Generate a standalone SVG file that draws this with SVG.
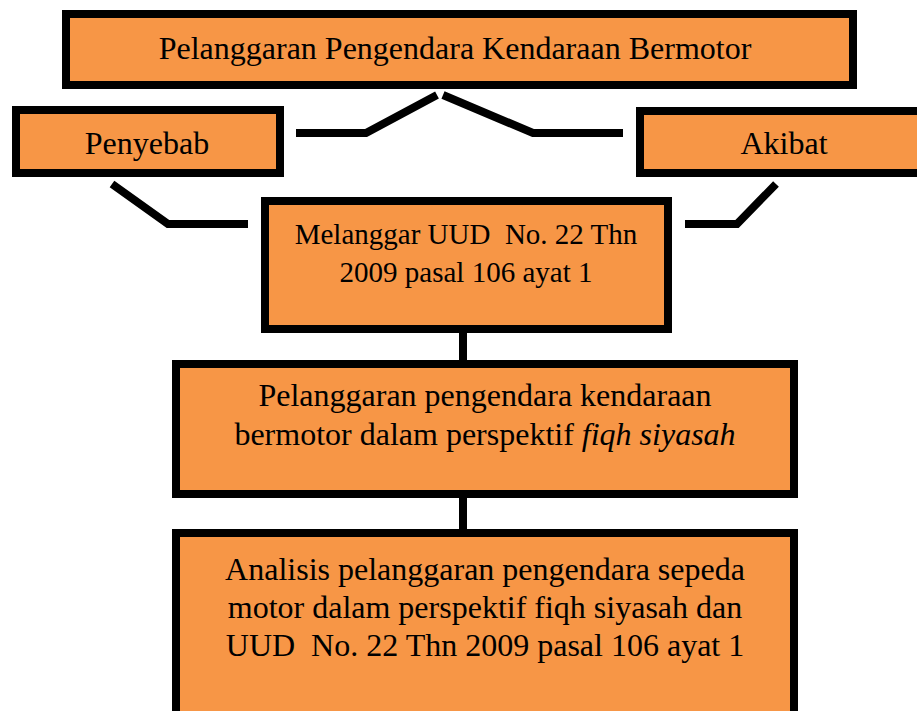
<svg xmlns="http://www.w3.org/2000/svg" width="917" height="711" viewBox="0 0 917 711">
<style>
.box{fill:#F79646;stroke:#000;stroke-width:8}
.t{font-size:32px;fill:#000;text-anchor:middle}
.conn{fill:none;stroke:#000;stroke-width:8;stroke-linejoin:miter;stroke-linecap:butt}
</style>
<rect width="917" height="711" fill="#fff"/>
<g id="connectors">
<path class="conn" d="M437,95 L366,133 L296,133"/>
<path class="conn" d="M443,95 L533,133 L623,133"/>
<path class="conn" d="M112,184 L168,224 L248,224"/>
<path class="conn" d="M776,184 L737,224 L685,224"/>
<path class="conn" d="M463,331 L463,362"/>
<path class="conn" d="M463,496 L463,532"/>
</g>
<g font-family="Liberation Serif, Times New Roman, serif">
<g id="top">
<rect class="box" x="66" y="14" width="787" height="71"/>
<text class="t" x="455" y="59">Pelanggaran Pengendara Kendaraan Bermotor</text>
</g>
<g id="penyebab">
<rect class="box" x="16" y="110" width="264" height="63"/>
<text class="t" x="147" y="154">Penyebab</text>
</g>
<g id="akibat">
<rect class="box" x="640" y="111" width="300" height="62"/>
<text class="t" x="784" y="154">Akibat</text>
</g>
<g id="melanggar">
<rect class="box" x="265" y="201" width="403" height="128"/>
<text class="t" style="font-size:29px" x="466" y="244" xml:space="preserve">Melanggar UUD  No. 22 Thn</text>
<text class="t" style="font-size:29px" x="466" y="282">2009 pasal 106 ayat 1</text>
</g>
<g id="perspektif">
<rect class="box" x="176" y="364" width="618" height="130"/>
<text class="t" x="485" y="406">Pelanggaran pengendara kendaraan</text>
<text class="t" x="485" y="445">bermotor dalam perspektif <tspan font-style="italic">fiqh siyasah</tspan></text>
</g>
<g id="analisis">
<rect class="box" x="176" y="533" width="618" height="200"/>
<text class="t" x="485" y="580">Analisis pelanggaran pengendara sepeda</text>
<text class="t" x="485" y="618">motor dalam perspektif fiqh siyasah dan</text>
<text class="t" x="485" y="656" xml:space="preserve">UUD  No. 22 Thn 2009 pasal 106 ayat 1</text>
</g>
</g>
</svg>
